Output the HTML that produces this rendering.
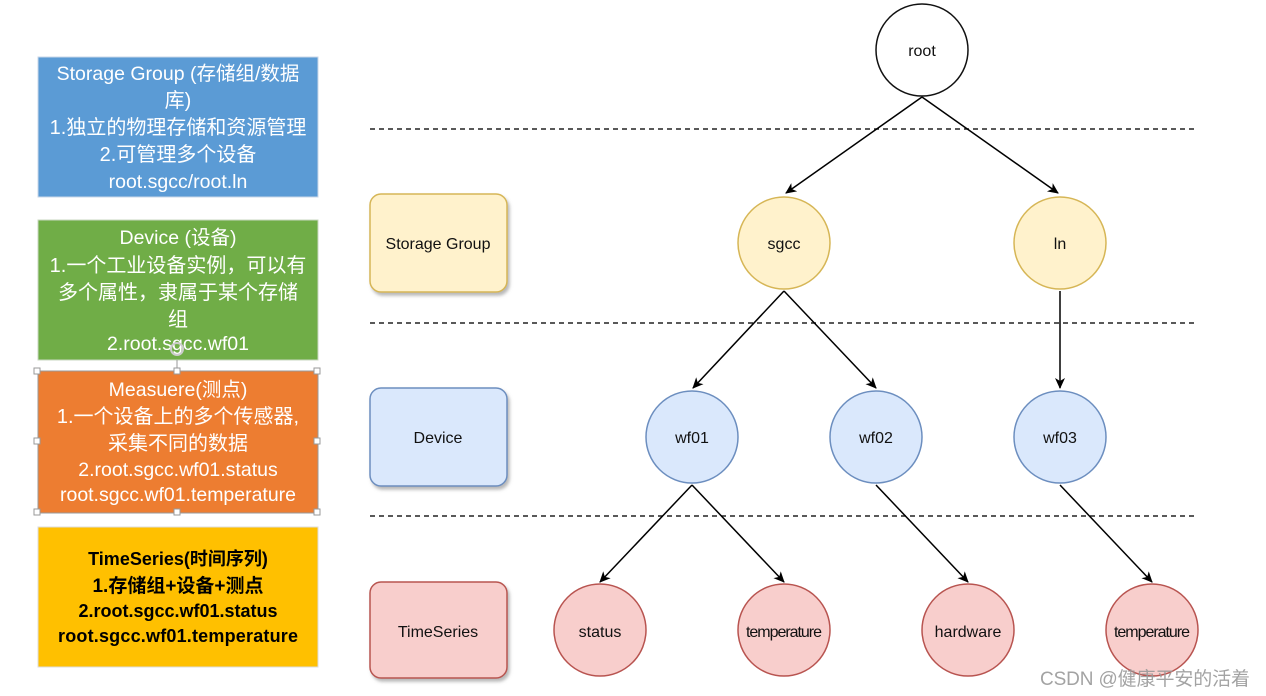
<!DOCTYPE html>
<html><head><meta charset="utf-8"><style>
html,body{margin:0;padding:0;background:#fff;width:1266px;height:696px;overflow:hidden}
svg{display:block}
.cj{font-family:"Liberation Sans","Noto Sans CJK SC",sans-serif}
.hv{font-family:"Liberation Sans",sans-serif;font-size:16px;fill:#111}
</style></head><body>
<svg width="1266" height="696" viewBox="0 0 1266 696" xmlns="http://www.w3.org/2000/svg">
<defs>
<marker id="ar" markerWidth="12" markerHeight="12" refX="10" refY="5" orient="auto" markerUnits="userSpaceOnUse">
<path d="M0,0 L11,5 L0,10 L3,5 z" fill="#000"/>
</marker>
<filter id="sh" x="-10%" y="-10%" width="130%" height="130%"><feDropShadow dx="2" dy="3" stdDeviation="1.5" flood-color="#888" flood-opacity="0.6"/></filter>
</defs>

<rect x="38" y="57" width="280" height="140" fill="#5b9bd5" stroke="#c9d7e8" stroke-width="1"/>
<g class="cj" font-size="20" fill="#fff" text-anchor="middle">
<text x="178" y="80" font-size="19.5">Storage Group (存储组/数据</text>
<text x="178" y="107">库)</text>
<text x="178" y="134">1.独立的物理存储和资源管理</text>
<text x="178" y="161">2.可管理多个设备</text>
<text x="178" y="188" font-size="19.5">root.sgcc/root.ln</text>
</g>

<rect x="38" y="220" width="280" height="140" fill="#70ad47" stroke="#c9d7c0" stroke-width="1"/>
<g class="cj" font-size="20" fill="#fff" text-anchor="middle">
<text x="178" y="244" font-size="19.5">Device (设备)</text>
<text x="178" y="272">1.一个工业设备实例，可以有</text>
<text x="178" y="299">多个属性，隶属于某个存储</text>
<text x="178" y="326">组</text>
<text x="178" y="350" font-size="19.5">2.root.sgcc.wf01</text>
</g>

<rect x="38" y="371" width="280" height="142" fill="#ed7d31" stroke="#999" stroke-width="1"/>
<g fill="#fff" stroke="#999" stroke-width="1">
<rect x="34" y="368" width="6" height="6"/><rect x="174" y="368" width="6" height="6"/><rect x="314" y="368" width="6" height="6"/>
<rect x="34" y="438" width="6" height="6"/><rect x="314" y="438" width="6" height="6"/>
<rect x="34" y="509" width="6" height="6"/><rect x="174" y="509" width="6" height="6"/><rect x="314" y="509" width="6" height="6"/>
</g>
<line x1="177" y1="360" x2="177" y2="368" stroke="#999"/>
<circle cx="177" cy="349" r="6" fill="none" stroke="#ccc" stroke-width="2"/>
<g class="cj" font-size="20" fill="#fff" text-anchor="middle">
<text x="178" y="396" font-size="19.5">Measuere(测点)</text>
<text x="178" y="423">1.一个设备上的多个传感器,</text>
<text x="178" y="450">采集不同的数据</text>
<text x="178" y="476" font-size="19.5">2.root.sgcc.wf01.status</text>
<text x="178" y="501" font-size="19.5" textLength="236">root.sgcc.wf01.temperature</text>
</g>

<rect x="38" y="527" width="280" height="140" fill="#ffc000" stroke="#ddd" stroke-width="1"/>
<g class="cj" font-size="18" font-weight="bold" fill="#000" text-anchor="middle">
<text x="178" y="565">TimeSeries(时间序列)</text>
<text x="178" y="592" font-size="19">1.存储组+设备+测点</text>
<text x="178" y="617">2.root.sgcc.wf01.status</text>
<text x="178" y="642" textLength="240">root.sgcc.wf01.temperature</text>
</g>

<g stroke="#222" stroke-width="1.5" stroke-dasharray="5,4">
<line x1="370" y1="129" x2="1196" y2="129"/>
<line x1="370" y1="323" x2="1196" y2="323"/>
<line x1="370" y1="516" x2="1196" y2="516"/>
</g>

<g filter="url(#sh)" stroke-width="1.5">
<rect x="370" y="194" width="137" height="98" rx="11" fill="#fff2cc" stroke="#d6b656"/>
<rect x="370" y="388" width="137" height="98" rx="11" fill="#dae8fc" stroke="#6c8ebf"/>
<rect x="370" y="582" width="137" height="96" rx="11" fill="#f8cecc" stroke="#b85450"/>
</g>
<g class="hv" text-anchor="middle">
<text x="438" y="249">Storage Group</text>
<text x="438" y="443">Device</text>
<text x="438" y="637">TimeSeries</text>
</g>

<g stroke="#000" stroke-width="1.5" fill="none" marker-end="url(#ar)">
<line x1="922" y1="97" x2="786" y2="193"/>
<line x1="922" y1="97" x2="1058" y2="193"/>
<line x1="784" y1="291" x2="693" y2="388"/>
<line x1="784" y1="291" x2="876" y2="388"/>
<line x1="1060" y1="291" x2="1060" y2="388"/>
<line x1="692" y1="485" x2="600" y2="582"/>
<line x1="692" y1="485" x2="784" y2="582"/>
<line x1="876" y1="485" x2="968" y2="582"/>
<line x1="1060" y1="485" x2="1152" y2="582"/>
</g>

<g stroke-width="1.5">
<circle cx="922" cy="50" r="46" fill="#fff" stroke="#111"/>
<circle cx="784" cy="243" r="46" fill="#fff2cc" stroke="#d6b656"/>
<circle cx="1060" cy="243" r="46" fill="#fff2cc" stroke="#d6b656"/>
<circle cx="692" cy="437" r="46" fill="#dae8fc" stroke="#6c8ebf"/>
<circle cx="876" cy="437" r="46" fill="#dae8fc" stroke="#6c8ebf"/>
<circle cx="1060" cy="437" r="46" fill="#dae8fc" stroke="#6c8ebf"/>
<circle cx="600" cy="630" r="46" fill="#f8cecc" stroke="#b85450"/>
<circle cx="784" cy="630" r="46" fill="#f8cecc" stroke="#b85450"/>
<circle cx="968" cy="630" r="46" fill="#f8cecc" stroke="#b85450"/>
<circle cx="1152" cy="630" r="46" fill="#f8cecc" stroke="#b85450"/>
</g>
<g class="hv" text-anchor="middle">
<text x="922" y="56">root</text>
<text x="784" y="249">sgcc</text>
<text x="1060" y="249">ln</text>
<text x="692" y="443">wf01</text>
<text x="876" y="443">wf02</text>
<text x="1060" y="443">wf03</text>
<text x="600" y="637">status</text>
<text x="784" y="637" textLength="76">temperature</text>
<text x="968" y="637">hardware</text>
<text x="1152" y="637" textLength="76">temperature</text>
</g>

<text x="1040" y="685" class="cj" font-size="19" fill="#999" fill-opacity="0.9" textLength="210">CSDN @健康平安的活着</text>
</svg>
</body></html>
